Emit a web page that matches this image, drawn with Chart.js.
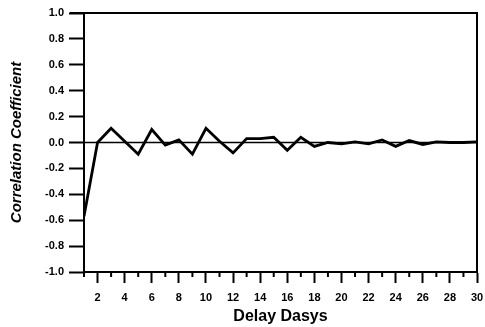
<!DOCTYPE html>
<html>
<head>
<meta charset="utf-8">
<script src="https://cdn.jsdelivr.net/npm/chart.js@4.4.1/dist/chart.umd.min.js"></script>
<style>
html,body{margin:0;padding:0;background:#fff;}
#wrap{width:485px;height:327px;position:relative;}
</style>
</head>
<body>
<div id="wrap"><canvas id="c" width="485" height="327"></canvas></div>
<script>
const delayDays = [1,2,3,4,5,6,7,8,9,10,11,12,13,14,15,16,17,18,19,20,21,22,23,24,25,26,27,28,29,30];
const correlation = [-0.57,0.0,0.11,0.01,-0.09,0.10,-0.02,0.02,-0.09,0.11,0.01,-0.08,0.03,0.03,0.04,-0.06,0.04,-0.03,0.0,-0.01,0.005,-0.01,0.02,-0.03,0.015,-0.015,0.005,0.0,0.0,0.005];
const xTickLabels = [2,4,6,8,10,12,14,16,18,20,22,24,26,28,30];
const yTickLabels = [-1.0,-0.8,-0.6,-0.4,-0.2,0.0,0.2,0.4,0.6,0.8,1.0];

const framePlugin = {
  id: 'frame',
  afterDraw(chart) {
    const {ctx, chartArea: a, scales} = chart;
    const x = scales.x, y = scales.y;
    ctx.save();
    ctx.strokeStyle = '#000';
    ctx.lineWidth = 2;
    ctx.beginPath();
    ctx.moveTo(a.left - 14, a.top); ctx.lineTo(a.right, a.top); ctx.lineTo(a.right, a.bottom);
    ctx.stroke();
    // minor ticks on x axis at odd days
    for (const d of delayDays) {
      if (xTickLabels.includes(d)) continue;
      const px = x.getPixelForValue(d);
      ctx.beginPath(); ctx.moveTo(px, a.bottom); ctx.lineTo(px, a.bottom + 5); ctx.stroke();
    }
    // zero reference line
    const y0 = y.getPixelForValue(0);
    ctx.lineWidth = 1.6;
    ctx.beginPath(); ctx.moveTo(a.left, y0); ctx.lineTo(a.right, y0); ctx.stroke();
    ctx.restore();
  }
};

new Chart(document.getElementById('c'), {
  type: 'line',
  data: {
    datasets: [{
      data: delayDays.map((d, i) => ({x: d, y: correlation[i]})),
      borderColor: '#000',
      borderWidth: 2.8,
      pointRadius: 0,
      tension: 0,
      fill: false
    }]
  },
  options: {
    responsive: false,
    animation: false,
    layout: {padding: {left: 0, right: 8, top: 13, bottom: 0}},
    plugins: {legend: {display: false}, tooltip: {enabled: false}},
    scales: {
      x: {
        type: 'linear',
        min: 1, max: 30,
        afterBuildTicks(scale) { scale.ticks = delayDays.map(v => ({value: v})); },
        afterFit(scale) { scale.height = 55; scale.paddingRight = 0; scale.paddingLeft = 0; },
        ticks: {
          autoSkip: false, maxRotation: 0,
          padding: 8,
          color: '#000',
          font: {family: 'Liberation Sans', size: 11, weight: 'bold'},
          callback: v => xTickLabels.includes(v) ? String(v) : ''
        },
        grid: {
          drawOnChartArea: false, drawTicks: true, tickLength: 11, tickWidth: 2,
          tickColor: ctx => (ctx.tick && xTickLabels.includes(ctx.tick.value)) ? '#000' : 'rgba(0,0,0,0)'
        },
        border: {color: '#000', width: 2},
        title: {display: true, text: 'Delay Dasys', color: '#000', padding: {top: 0, bottom: 1},
          font: {family: 'Liberation Sans', size: 16, weight: 'bold'}}
      },
      y: {
        min: -1, max: 1,
        afterBuildTicks(scale) { scale.ticks = yTickLabels.map(v => ({value: v})); },
        afterFit(scale) { scale.width = 84; },
        ticks: {
          padding: 5,
          color: '#000',
          font: {family: 'Liberation Sans', size: 11, weight: 'bold'},
          callback: v => Number(v).toFixed(1)
        },
        grid: {drawOnChartArea: false, drawTicks: true, tickLength: 15, tickWidth: 2, tickColor: '#000'},
        border: {color: '#000', width: 2},
        title: {display: true, text: 'Correlation Coefficient', color: '#000', padding: {top: 8, bottom: 0},
          font: {family: 'Liberation Sans', size: 15, weight: 'bold', style: 'italic'}}
      }
    }
  },
  plugins: [framePlugin]
});
</script>
</body>
</html>
